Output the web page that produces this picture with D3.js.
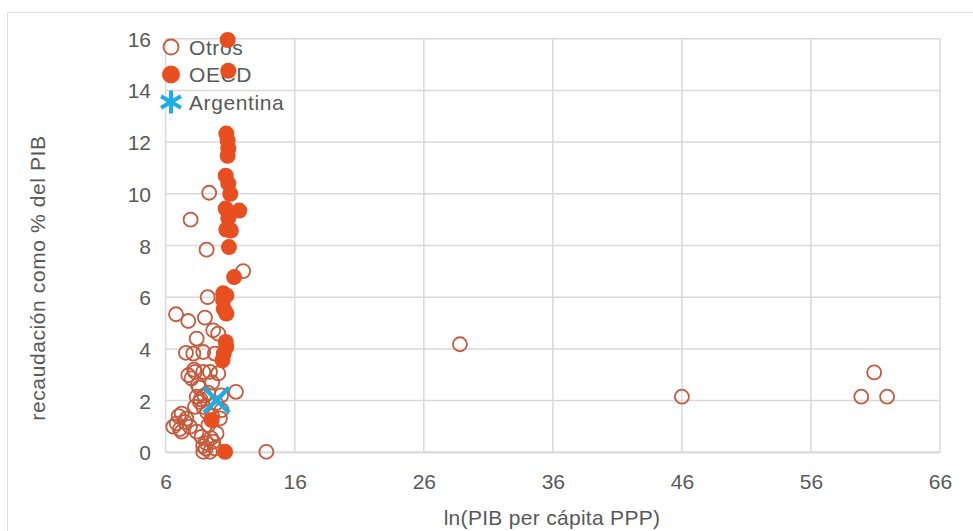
<!DOCTYPE html>
<html>
<head>
<meta charset="utf-8">
<script src="https://cdn.jsdelivr.net/npm/d3@7"></script>
<style>
  html, body { margin: 0; padding: 0; background: #fff; }
  svg { display: block; }
  text { font-family: "Liberation Sans", Arial, sans-serif; fill: #595959; }
</style>
</head>
<body>
<svg id="chart" width="973" height="531"></svg>
<script>
// ---- Data ----
const xTicks = [6, 16, 26, 36, 46, 56, 66];
const yTicks = [0, 2, 4, 6, 8, 10, 12, 14, 16];

const otrosX = [9.37, 7.93, 9.17, 12.0, 9.25, 6.8, 7.75, 9.04, 9.68, 8.4, 10.07, 7.57, 8.14, 8.91, 9.81,
  7.75, 8.27, 8.91, 9.43, 10.07, 8.0, 9.6, 11.44, 8.4, 8.65, 8.27, 8.91, 10.33, 10.2, 9.3, 8.6,
  7.24, 6.85, 7.49, 7.24, 7.88, 6.59, 7.0, 8.4, 8.78, 9.94, 9.17, 8.91, 9.43, 9.81, 9.68, 9.1,
  13.8, 28.8, 46.0, 59.9, 60.9, 61.9, 9.9, 10.3, 9.6,
  8.7, 9.0, 8.5, 9.2, 7.6, 7.1, 8.9, 9.5, 9.3, 8.2];
const otrosY = [10.04, 9.0, 7.84, 7.01, 6.0, 5.34, 5.08, 5.21, 4.72, 4.4, 4.59, 3.85, 3.82, 3.88, 3.82,
  2.98, 3.11, 3.11, 3.11, 3.05, 2.86, 2.7, 2.34, 2.15, 1.95, 1.76, 1.76, 1.63, 1.31, 2.3, 2.5,
  1.5, 1.12, 1.18, 0.8, 0.99, 0.99, 1.4, 0.8, 0.6, 0.73, 0.35, 0.02, 0.02, 0.15, 0.41, 0.15,
  0.02, 4.18, 2.15, 2.15, 3.09, 2.15, 1.9, 2.2, 1.4,
  2.05, 2.2, 2.6, 1.55, 1.3, 0.9, 0.25, 0.55, 1.05, 3.2];

const oecdX = [10.8, 10.85, 10.7, 10.8, 10.85, 10.8, 10.65, 10.85, 11.0, 10.65, 11.7, 10.85, 10.7, 11.05,
  10.9, 11.3, 10.45, 10.7, 10.45, 10.5, 10.7, 10.65, 10.7, 10.5, 10.4, 9.56, 10.6];
const oecdY = [15.95, 14.76, 12.33, 12.06, 11.75, 11.47, 10.7, 10.4, 10.0, 9.43, 9.35, 9.05, 8.62, 8.58,
  7.94, 6.78, 6.15, 6.07, 5.88, 5.55, 5.37, 4.27, 4.08, 3.82, 3.56, 1.25, 0.02];

const argX = [9.94];
const argY = [2.02];

const legendLabels = ["Otros", "OECD", "Argentina"];

// ---- Styles ----
const C_OTROS = "#c55a3c";
const C_OECD = "#e84e1f";
const C_ARG = "#1aaee8";
const GRID = "#d9d9d9";

const svg = d3.select("#chart");

// outer frame
svg.append("rect").attr("x", 7.5).attr("y", 12.5).attr("width", 1000).attr("height", 600)
  .attr("fill", "none").attr("stroke", "#e3e3e3").attr("stroke-width", 1);

const x = d3.scaleLinear().domain([6, 66]).range([165.7, 940]);
const y = d3.scaleLinear().domain([0, 16]).range([452.3, 38.7]);

// grid
const g = svg.append("g");
g.selectAll("line.vg").data(xTicks).join("line")
  .attr("x1", d => x(d)).attr("x2", d => x(d))
  .attr("y1", y(16)).attr("y2", y(0))
  .attr("stroke", GRID).attr("stroke-width", 1.5);
g.selectAll("line.hg").data(yTicks).join("line")
  .attr("x1", x(6)).attr("x2", x(66))
  .attr("y1", d => y(d)).attr("y2", d => y(d))
  .attr("stroke", GRID).attr("stroke-width", d => d === 0 ? 2.2 : 1.5);

// axes (labels only)
const xAxis = d3.axisBottom(x).tickValues(xTicks).tickSize(0).tickPadding(0).tickFormat(d3.format("d"));
const xa = svg.append("g").attr("transform", `translate(0,${y(0) + 37})`).call(xAxis);
xa.select(".domain").remove();
xa.selectAll("text").attr("font-size", 21).attr("dy", 0).style("font-family", "'Liberation Sans', Arial, sans-serif").attr("fill", "#595959");

const yAxis = d3.axisLeft(y).tickValues(yTicks).tickSize(0).tickPadding(0).tickFormat(d3.format("d"));
const ya = svg.append("g").attr("transform", `translate(151,0)`).call(yAxis);
ya.select(".domain").remove();
ya.selectAll("text").attr("font-size", 21).attr("dy", "0.36em").style("font-family", "'Liberation Sans', Arial, sans-serif").attr("fill", "#595959");

// axis titles
svg.append("text").attr("x", 552).attr("y", 525).attr("text-anchor", "middle")
  .attr("font-size", 21).attr("letter-spacing", 0.3).text("ln(PIB per cápita PPP)");
svg.append("text").attr("transform", "translate(45,278) rotate(-90)").attr("text-anchor", "middle")
  .attr("font-size", 21).attr("letter-spacing", 0.6).text("recaudación como % del PIB");

// legend
const lg = svg.append("g");
lg.append("circle").attr("cx", 171).attr("cy", 47).attr("r", 7.5)
  .attr("fill", "none").attr("stroke", C_OTROS).attr("stroke-width", 1.8);
lg.append("circle").attr("cx", 171).attr("cy", 74.5).attr("r", 9).attr("fill", C_OECD);
[90, 30, 150].forEach(a => {
  const r = 11.5, rad = a * Math.PI / 180;
  lg.append("line")
    .attr("x1", 171 - r * Math.cos(rad)).attr("y1", 102 - r * Math.sin(rad))
    .attr("x2", 171 + r * Math.cos(rad)).attr("y2", 102 + r * Math.sin(rad))
    .attr("stroke", C_ARG).attr("stroke-width", 4);
});
lg.selectAll("text").data(legendLabels).join("text")
  .attr("x", 189).attr("y", (d, i) => 47 + i * 27.5).attr("dy", "0.36em")
  .attr("font-size", 21).attr("letter-spacing", 0.6).text(d => d);

// Otros
const otros = otrosX.map((v, i) => ({ x: v, y: otrosY[i] }));
svg.append("g").selectAll("circle").data(otros).join("circle")
  .attr("cx", d => x(d.x)).attr("cy", d => y(d.y)).attr("r", 7)
  .attr("fill", "none").attr("stroke", C_OTROS).attr("stroke-width", 1.8);

// OECD
const oecd = oecdX.map((v, i) => ({ x: v, y: oecdY[i] }));
svg.append("g").selectAll("circle").data(oecd).join("circle")
  .attr("cx", d => x(d.x)).attr("cy", d => y(d.y)).attr("r", 8)
  .attr("fill", C_OECD);

// Argentina
const arg = argX.map((v, i) => ({ x: v, y: argY[i] }));
const ag = svg.append("g");
arg.forEach(d => {
  const cx = x(d.x), cy = y(d.y), r = 12.5;
  [[-1, -1, 1, 1], [-1, 1, 1, -1]].forEach(([a, b, c, e]) => {
    ag.append("line").attr("x1", cx + a * r).attr("y1", cy + b * r)
      .attr("x2", cx + c * r).attr("y2", cy + e * r)
      .attr("stroke", C_ARG).attr("stroke-width", 4.5);
  });
});
</script>
</body>
</html>
